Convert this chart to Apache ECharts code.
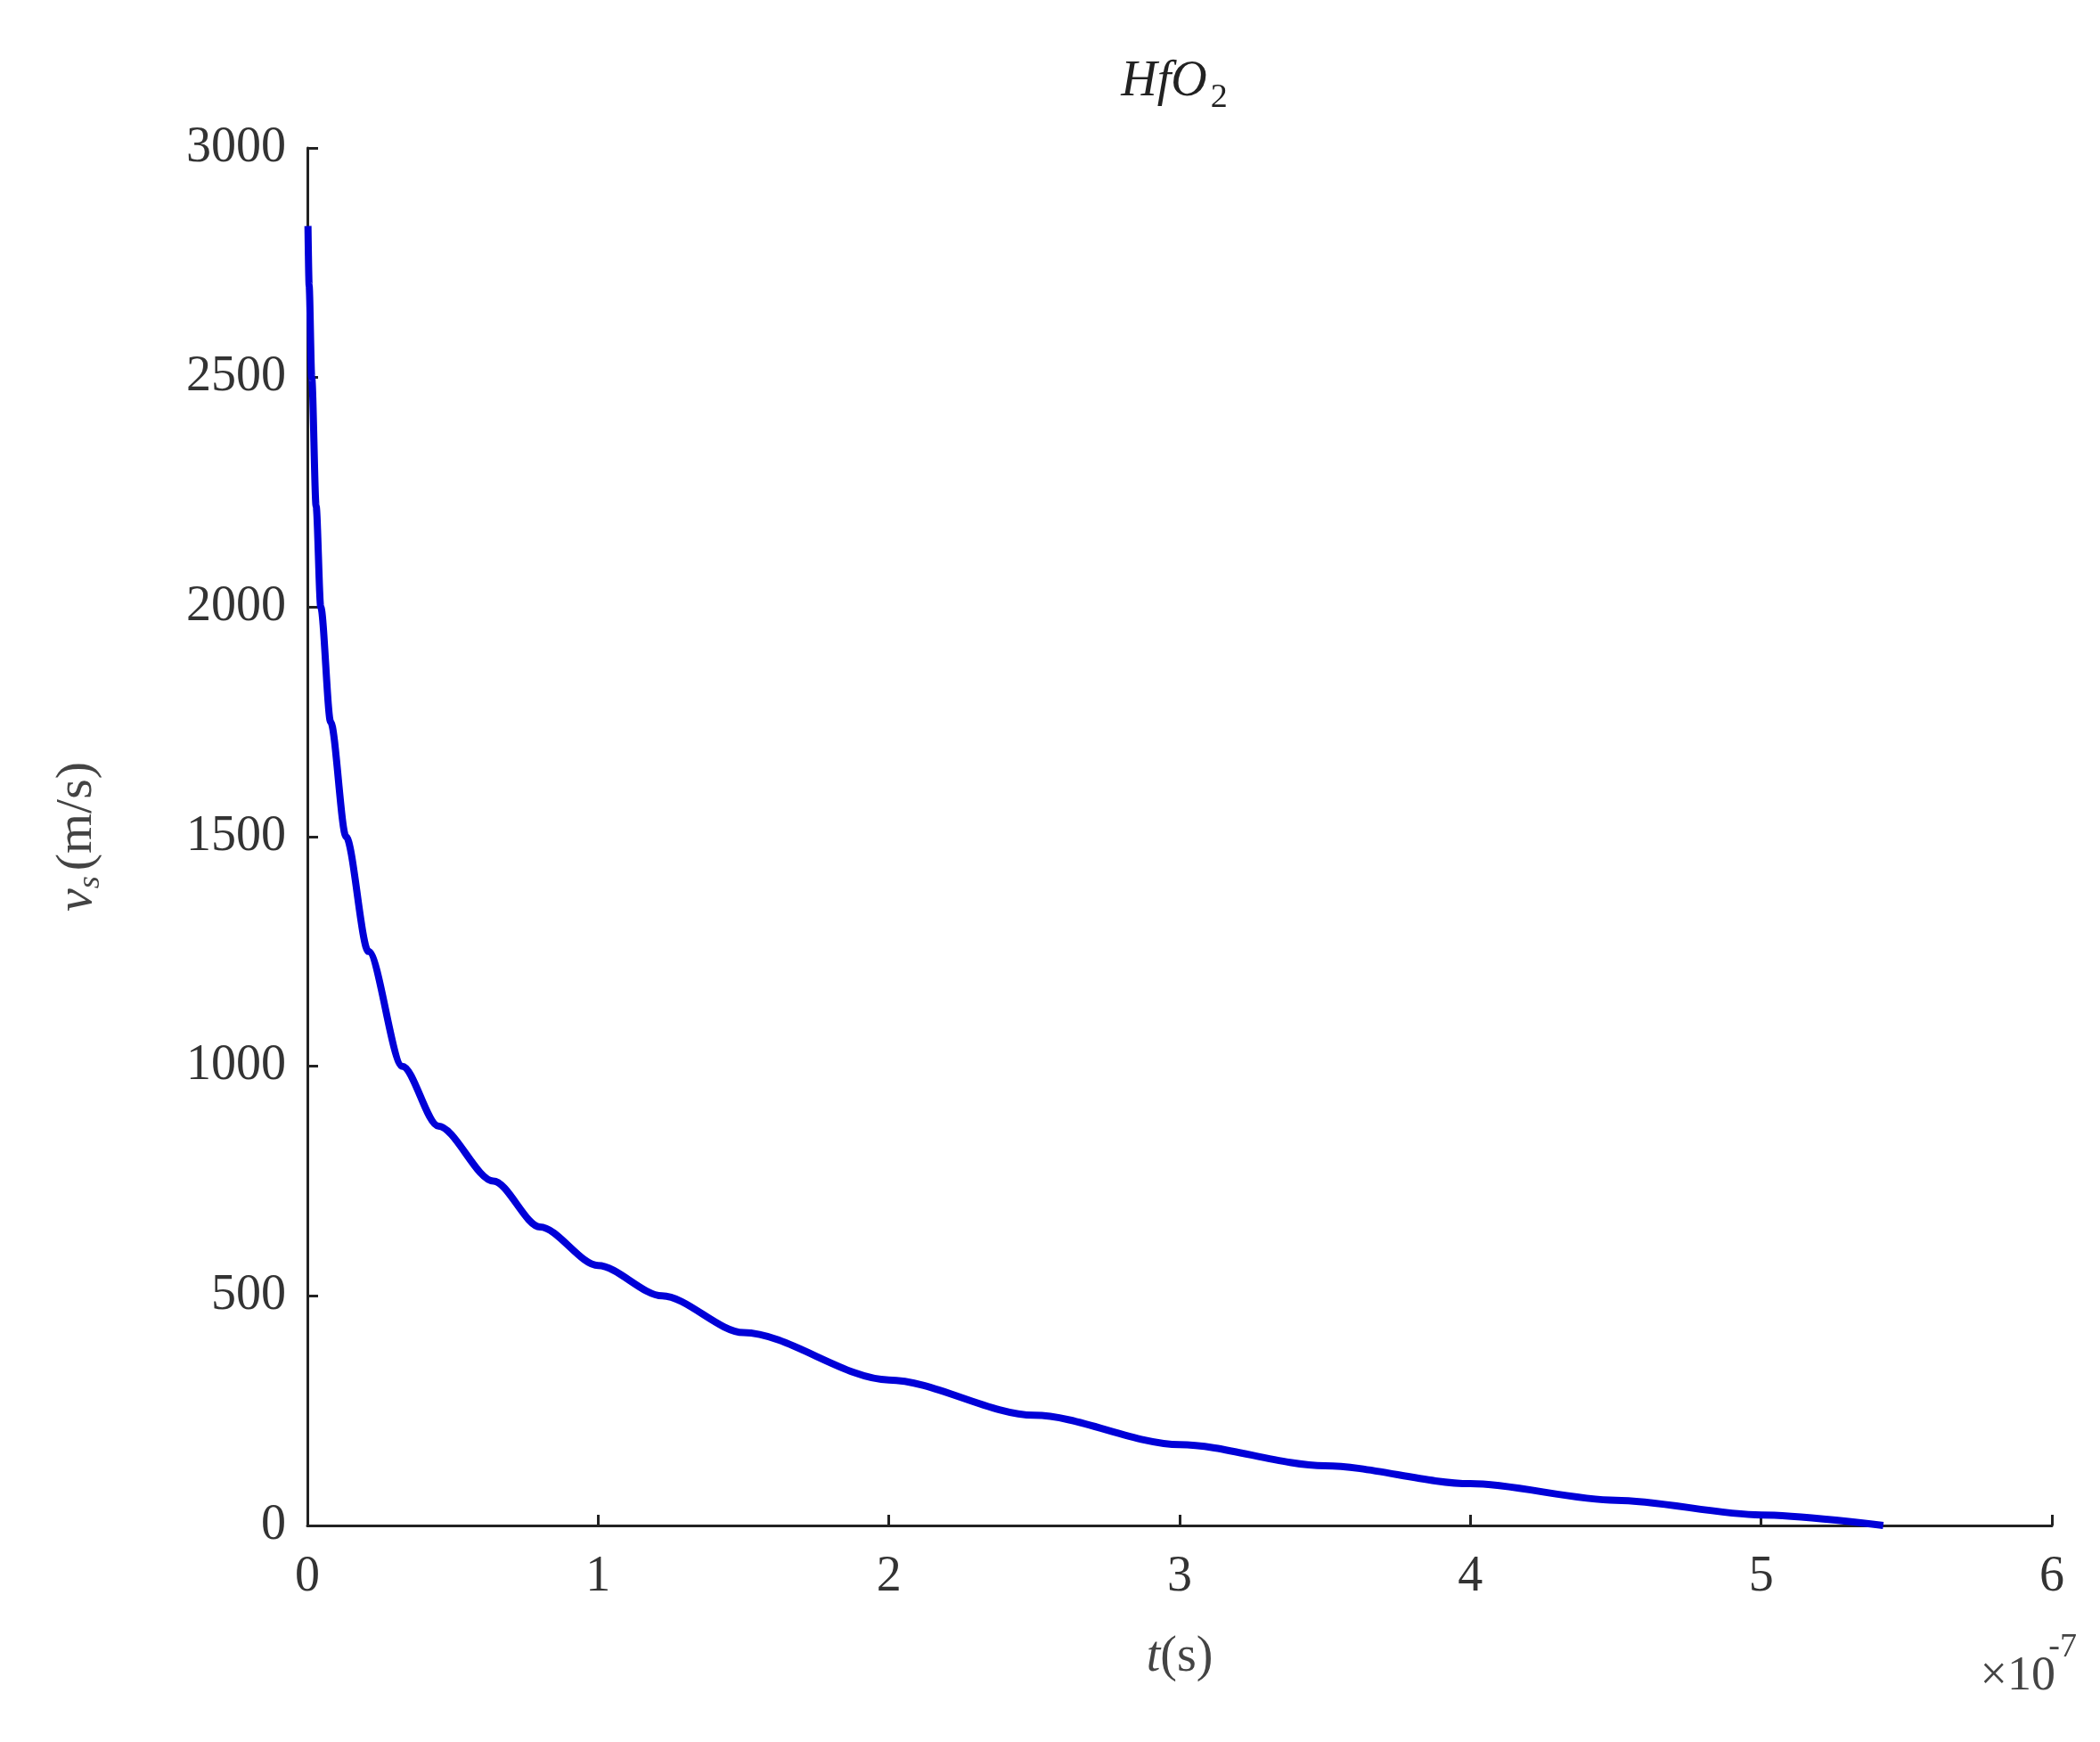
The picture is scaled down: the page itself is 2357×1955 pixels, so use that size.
<!DOCTYPE html><html><head><meta charset="utf-8"><script src="https://cdn.jsdelivr.net/npm/echarts@6/dist/echarts.min.js"></script>
<style>body{margin:0;background:#fff}#c{width:2357px;height:1955px}</style></head><body><div id="c"></div><script>
var tVals=[0.002,0.006,0.015,0.03,0.046,0.08,0.133,0.21,0.327,0.45,0.64,0.8,1.0,1.22,1.5,2.0,2.5,3.0,3.5,4.0,4.5,5.0,5.42];
var vVals=[2830,2700,2500,2220,2000,1750,1500,1250,1000,870,750,650,566,500,420,317,240,176,130,91,55,23,0];
var xTicks=[0,1,2,3,4,5,6];
var ch=echarts.init(document.getElementById('c'));
var F='Liberation Serif';
ch.setOption({
 title:{text:'{i|HfO}{s|2}',left:1313,top:50,textAlign:'center',textStyle:{fontWeight:'normal',rich:{i:{fontFamily:F,fontStyle:'italic',fontWeight:'normal',fontSize:56,color:'#222'},s:{fontFamily:F,fontWeight:'normal',fontSize:38,color:'#222',padding:[36,0,0,4]}}}},
 grid:{left:345,right:54,top:166,bottom:243},
 xAxis:{type:'value',min:0,max:6,interval:1,axisLine:{lineStyle:{color:'#222',width:3}},axisTick:{inside:true,length:12,lineStyle:{width:3}},splitLine:{show:false},
  axisLabel:{fontFamily:F,fontSize:56,color:'#333',margin:30},
  name:'{i|t}(s)',nameLocation:'middle',nameGap:120,nameTextStyle:{fontFamily:F,fontSize:56,color:'#444',rich:{i:{fontStyle:'italic',fontFamily:F,fontSize:56,color:'#444'}}}},
 yAxis:{type:'value',min:0,max:3000,interval:500,axisLine:{show:true,lineStyle:{color:'#222',width:3}},axisTick:{show:true,inside:true,length:12,lineStyle:{width:3}},splitLine:{show:false},
  axisLabel:{fontFamily:F,fontSize:56,color:'#333',margin:24,formatter:function(v){return String(v);}},
  name:'{i|v}{s|s}(m/s)',nameLocation:'middle',nameGap:225,nameTextStyle:{fontFamily:F,fontSize:58,color:'#444',rich:{i:{fontStyle:'italic',fontFamily:F,fontSize:58,color:'#444'},s:{fontStyle:'italic',fontFamily:F,fontSize:36,color:'#444',padding:[30,6,0,0]}}}},
 graphic:[{type:'text',right:50,top:1855,style:{text:'×10',fontFamily:F,fontSize:54,fill:'#444'}},
  {type:'text',right:26,top:1830,style:{text:'-7',fontFamily:F,fontSize:38,fill:'#444'}}],
 series:[{type:'line',data:tVals.map(function(t,i){return [t,vVals[i]];}),smooth:0.3,smoothMonotone:'x',showSymbol:false,lineStyle:{color:'#0000d8',width:8}}]
});
</script></body></html>
